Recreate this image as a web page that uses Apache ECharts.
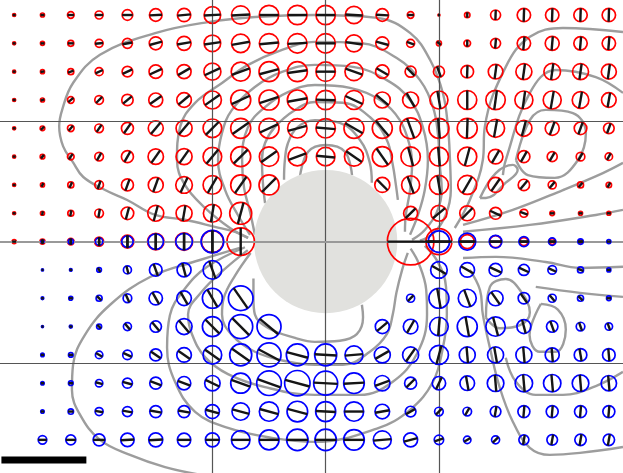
<!DOCTYPE html>
<html>
<head>
<meta charset="utf-8">
<script src="https://cdn.jsdelivr.net/npm/echarts@6/dist/echarts.min.js"></script>
<style>
  html, body { margin: 0; padding: 0; background: #fff; }
  #chart { width: 623px; height: 473px; }
</style>
</head>
<body>
<div id="chart"></div>
<script>
// lattice: columns and rows of the sampling grid (grid units)
const cols = [-11, -10, -9, -8, -7, -6, -5, -4, -3, -2, -1, 0, 1, 2, 3, 4, 5, 6, 7, 8, 9, 10];
const redRows = [8, 7, 6, 5, 4, 3, 2, 1, 0];
const blueRows = [0, -1, -2, -3, -4, -5, -6, -7];

// amplitude of the red ellipses (0 = nothing drawn)
const redAmp = [
  [1.5, 2, 3.3, 4, 5.3, 6.3, 6.7, 8.3, 9.2, 9.7, 9.7, 9.7, 8.7, 6.3, 3.3, 1, 2.7, 5, 6.7, 6.7, 6.7, 6.7],
  [1.5, 2, 3, 4, 5, 6.5, 7, 8.3, 9.2, 9.7, 9.7, 9.7, 8.5, 6.5, 4, 2.5, 3.3, 5, 6.7, 7, 6.7, 6.7],
  [1.5, 2, 3, 4, 5.3, 6.7, 7, 8.5, 9.5, 10, 10, 9.7, 9, 6.7, 5.5, 5.5, 6.3, 7.3, 8, 8.3, 8, 7.5],
  [1.5, 2, 3.3, 4.3, 5.7, 7, 7.3, 9, 10, 10, 10, 9.7, 9.5, 8, 8, 9, 9.5, 9.7, 9, 9, 8.3, 7.3],
  [1.5, 2.3, 3.3, 4.3, 6, 7.5, 8, 9.3, 10, 10, 9.7, 9.7, 10, 10, 10.5, 10, 10, 9, 8, 7, 6.3, 5.3],
  [1.5, 2.3, 3.3, 4.3, 6, 7.7, 8, 9.3, 10, 9.7, 9.3, 9.3, 9.5, 10, 9.7, 9.5, 9.5, 7.3, 6, 5, 4.3, 3.7],
  [1.5, 2, 3, 4.3, 6, 7.5, 8.3, 9.3, 10, 10, 0, 0, 0, 7.5, 9, 9.5, 9.5, 7.5, 5.7, 4, 3, 2.7],
  [1.5, 2, 3, 4.3, 6.3, 8, 8, 9, 11, 0, 0, 0, 0, 0, 7, 8, 7.5, 6, 4, 2.3, 2, 2],
  [2, 2.5, 3.3, 4.5, 6.5, 8.3, 8.7, 11, 13.7, 0, 0, 0, 0, 0, 23.3, 13, 7, 6, 4, 3, 2, 0]
];
// orientation of the major axis, degrees from +x
const redAngle = [
  [0, 0, 0, 0, 0, 3, 5, 3, 3, 0, 0, 0, -3, -3, 0, 0, 90, 88, 88, 88, 88, 88],
  [0, 0, 0, 5, 10, 15, 10, 8, 10, 5, 3, 0, -8, -15, -20, -40, 90, 85, 85, 85, 85, 85],
  [0, 10, 20, 25, 25, 25, 30, 25, 20, 15, 8, 0, -20, -30, -45, -70, 88, 82, 82, 82, 82, 82],
  [0, 20, 40, 45, 40, 35, 40, 35, 25, 18, 10, -2, -25, -40, -60, -80, 90, 82, 82, 80, 80, 80],
  [0, 45, 50, 55, 55, 50, 50, 45, 35, 25, 15, -5, -30, -50, -70, -85, 88, 80, 75, 70, 70, 70],
  [0, 50, 55, 60, 60, 55, 55, 50, 45, 35, 20, -5, -35, -55, -75, -85, 75, 60, 60, 60, 60, 60],
  [0, 60, 65, 70, 70, 70, 65, 60, 55, 45, 0, 0, 0, -45, -70, -80, 60, 55, 50, 50, 50, 60],
  [0, 80, 80, 80, 75, 75, 80, 80, 75, 0, 0, 0, 0, 0, 45, 40, 45, -25, -20, 0, 0, 0],
  [0, 90, 90, 90, 90, 90, 90, 90, 90, 0, 0, 0, 0, 0, 0, 0, 0, 0, 0, 0, 0, 0]
];

const blueAmp = [
  [0, 1.5, 2.5, 3.7, 5.7, 7.7, 8.3, 11.3, 0, 0, 0, 0, 0, 0, 0, 10.7, 8.5, 6.3, 5, 3.7, 2.7, 2],
  [0, 1, 1.3, 2.3, 4, 6.3, 7, 9.3, 0, 0, 0, 0, 0, 0, 0, 8.3, 7.3, 6.5, 5.5, 4.3, 3, 2],
  [0, 1.3, 2, 3, 4.3, 6.7, 7.3, 10, 12.3, 0, 0, 0, 0, 0, 4, 10, 9, 7.5, 5.7, 4, 3, 2.3],
  [0, 1, 1.5, 2.5, 4, 5.7, 8, 10, 12, 12, 0, 0, 0, 7, 7.3, 9.3, 10, 9.7, 7, 5.7, 4.3, 3.7],
  [0, 1.7, 2.3, 3.7, 4.7, 6, 7.3, 9.3, 11, 12, 11, 11, 9, 8, 8, 9.5, 8, 8, 8, 7, 6.3, 6.3],
  [0, 1.7, 2.3, 3.7, 5, 6, 6.7, 7.7, 10, 12.3, 12.7, 12, 10.3, 7.7, 6, 6.7, 7.3, 8.3, 8.7, 8.7, 8.3, 7.7],
  [0, 1.7, 2.7, 4, 5, 6, 6, 7, 8.7, 9.7, 10.3, 10, 9.7, 7.3, 5.3, 4.3, 4.3, 5.3, 6, 6, 6, 6],
  [0, 4.3, 5, 6, 6.7, 7, 6.7, 7, 9.3, 10, 10.7, 10.7, 10.3, 9, 7, 4.7, 3.7, 4, 5, 5.3, 5.7, 5.7]
];
const blueAngle = [
  [0, 90, 90, 90, 90, 90, 90, 90, 0, 0, 0, 0, 0, 0, 0, 0, 0, 0, 0, 0, 0, 0],
  [0, 0, 0, -60, -75, -70, -75, -70, 0, 0, 0, 0, 0, 0, 0, -30, -30, -25, -25, -25, -20, 0],
  [0, 0, 0, -45, -65, -60, -60, -60, -55, 0, 0, 0, 0, 0, 45, -80, -70, -55, -55, -50, -45, 0],
  [0, 0, 0, -45, -50, -50, -50, -45, -45, -40, 0, 0, 0, 40, 60, 85, -80, -75, -75, -70, -70, -70],
  [0, 0, 0, -30, -25, -35, -35, -35, -35, -28, -15, -3, 5, 30, 55, 75, -85, -80, -85, -85, -80, -85],
  [0, 0, 0, -15, -15, -20, -20, -25, -20, -20, -15, -3, 3, 20, 45, 65, -80, -85, -85, -85, -85, -85],
  [0, 0, 0, -10, -10, -10, -10, -15, -15, -15, -15, -3, 0, 10, 30, 45, 60, 80, 85, 85, 85, 85],
  [0, 0, 0, 0, 3, 3, 0, 0, 0, 0, 0, 0, 0, 5, 15, 20, 30, 45, 80, 80, 80, 80]
];

// contour lines of the intensity, traced in grid units
const contourTopLeft = [[-2.74, 0.13], [-3.2, 0.34], [-3.91, 0.52], [-4.97, 0.77], [-6.02, 0.94], [-7.01, 1.47],
  [-7.79, 1.82], [-8.56, 2.28], [-8.92, 2.8], [-9.27, 3.36], [-9.41, 4.07], [-9.3, 4.67], [-8.92, 5.6],
  [-7.97, 6.6], [-6.02, 7.36], [-4.15, 7.75], [-2.49, 7.93], [-0.4, 8], [1.82, 7.9], [2.99, 7.36],
  [3.69, 6.41], [4.14, 5.24], [4.32, 4.04], [4.39, 2.88], [4.42, 1.82], [4.24, 0.94], [3.82, 0.31], [3.33, 0.03]];
const contourArcs = [
  [[-2.74, 0.13], [-3.38, 0.48], [-4.26, 1.19], [-4.97, 2.0], [-5.25, 2.88], [-5.14, 4.05], [-4.61, 4.9],
   [-3.66, 5.6], [-2.74, 6.24], [-1.54, 6.77], [-0.38, 7.05], [1.21, 7.01], [2.51, 6.48], [3.33, 5.7],
   [3.79, 4.75], [3.96, 3.84], [4.03, 2.71], [4.1, 1.82], [3.93, 1.05], [3.5, 0.41], [3.05, 0.06]],
  [[-2.67, 0.24], [-3.1, 0.94], [-3.55, 1.82], [-3.8, 2.88], [-3.66, 3.84], [-3.31, 4.65], [-2.5, 5.46],
   [-1.54, 5.99], [-0.38, 6.24], [0.96, 6.17], [2.16, 5.7], [2.98, 5.0], [3.43, 4.05], [3.61, 2.88],
   [3.5, 1.82], [3.26, 0.94], [2.98, 0.24]],
  [[-2.5, 0.24], [-2.67, 1.05], [-2.88, 1.89], [-2.95, 2.88], [-2.74, 4.05], [-2.14, 4.75], [-1.33, 5.28],
   [-0.38, 5.53], [0.86, 5.43], [1.92, 5.0], [2.62, 4.29], [2.98, 3.34], [3.05, 2.71], [2.98, 1.82],
   [2.83, 0.94], [2.8, 0.35]],
  [[-2.14, 1.36], [-2.21, 2.0], [-2.25, 2.88], [-2.14, 3.48], [-1.79, 4.05], [-1.08, 4.65], [-0.38, 4.93],
   [0.61, 4.9], [1.56, 4.4], [2.16, 3.59], [2.37, 2.71], [2.48, 2.0], [2.55, 1.47]],
  [[-1.47, 2.18], [-1.44, 2.88], [-1.33, 3.48], [-0.98, 4.05], [-0.38, 4.29], [0.5, 4.19], [1.21, 3.59],
   [1.56, 2.78], [1.63, 2.08]],
  [[-0.91, 2.28], [-0.62, 3.17], [0.01, 3.41], [0.68, 3.17], [0.93, 2.35]]
];
const contourBottom = [
  [[-3.03, -0.22], [-4.44, -0.65], [-6.2, -1.25], [-7.61, -2.23], [-8.5, -3.29], [-8.92, -4.35], [-8.96, -5.23],
   [-8.67, -6.12], [-7.97, -7.0], [-6.91, -7.53], [-5.67, -7.96], [-4.44, -8.23]],
  [[-2.85, -0.2], [-4.2, -0.9], [-5.0, -1.7], [-5.5, -2.6], [-5.6, -3.75], [-5.32, -4.95], [-4.61, -6.01],
   [-3.45, -6.58], [-1.9, -6.93], [-0.38, -7.07], [1.81, -6.6], [2.98, -5.94], [3.79, -4.95], [4.14, -3.75],
   [4.28, -2.57], [4.25, -1.6], [3.95, -0.7], [3.5, -0.15]],
  [[-2.75, -0.3], [-3.6, -1.0], [-4.4, -1.8], [-4.86, -2.57], [-4.72, -3.27], [-4.26, -4.08], [-3.45, -4.68],
   [-2.14, -5.14], [-0.38, -5.41], [1.21, -5.41], [2.37, -4.95], [3.22, -3.97], [3.58, -2.57], [3.55, -1.7],
   [3.3, -0.8], [3.0, -0.25]],
  [[-2.65, -0.4], [-3.2, -1.2], [-3.6, -2.0], [-3.66, -2.57], [-3.31, -3.3], [-2.5, -3.89], [-1.33, -4.24],
   [-0.38, -4.35], [0.61, -4.35], [1.56, -3.89], [2.16, -3.27], [2.37, -2.57], [2.5, -1.8], [2.7, -1.0], [2.9, -0.4]],
  [[-2.55, -1.3], [-2.55, -2.0], [-2.5, -2.57], [-2.03, -3.05], [-1.08, -3.4], [-0.38, -3.54], [0.5, -3.5],
   [1.1, -3.27], [1.32, -2.67], [1.28, -2.23]]
];
const contourRight = [
  [[4.56, 0.48], [5.09, 1.47], [5.55, 2.88], [5.62, 4.05], [6.36, 6.17], [7.21, 7.23], [8.38, 7.54], [10.5, 7.4]],
  [[6.26, 2.35], [6.36, 2.88], [7.21, 5.25], [8.13, 6.06], [9.54, 5.81], [10.5, 5.25]],
  [[6.72, 2.88], [7.21, 4.29], [7.77, 4.65], [8.73, 4.54], [9.19, 3.84], [8.91, 2.88], [8.09, 2.25],
   [7.14, 2.35], [6.72, 2.88]],
  [[5.45, 1.54], [6.01, 2.42], [6.61, 2.71], [6.78, 2.53], [6.36, 2.08], [5.66, 1.54], [5.45, 1.54]],
  [[4.85, 0.59], [6.61, 1.12], [8.38, 1.82], [9.79, 2.42], [10.5, 2.78]],
  [[4.85, 0.35], [7.21, 0.59], [9.54, 0.94], [10.5, 1.12]],
  [[4.85, -0.58], [6.01, -0.54], [7.77, -0.72], [8.98, -0.93], [10.5, -0.89]],
  [[5.66, -2.69], [5.8, -1.6], [6.36, -1.32], [6.86, -1.71], [7.21, -2.5], [6.86, -2.95], [6.15, -3.06], [5.66, -2.69]],
  [[7.42, -1.6], [8.98, -1.81], [10.5, -1.95]],
  [[5.09, -1.0], [5.45, -1.71], [5.55, -2.57], [5.8, -3.75], [6.15, -5.16], [6.61, -6.36], [7.21, -7.28],
   [7.91, -7.53], [8.98, -7.46], [10.5, -7.25]],
  [[7.6, -2.2], [8.2, -2.4], [8.48, -3.1], [8.13, -3.89], [7.56, -3.89], [7.2, -3.3], [7.6, -2.2]],
  [[6.36, -4.1], [6.72, -4.95], [7.42, -5.41], [8.38, -5.41], [9.54, -5.1], [10.5, -4.6]]
];
const contours = [contourTopLeft].concat(contourArcs, contourBottom, contourRight);

const diskRadius = 2.53;
const guideX = [-4, 0, 4];
const guideY = [4.24, -4.28];
const scaleBar = { from: -11.45, length: 3, y: -7.71 };

const ampToUnit = 1 / 28.33;

function lattice(rows, amp, angle) {
  const out = [];
  rows.forEach(function (y, j) {
    cols.forEach(function (x, i) {
      if (amp[j][i] > 0) out.push([x, y, amp[j][i], angle[j][i]]);
    });
  });
  return out;
}
const redData = lattice(redRows, redAmp, redAngle);
const blueData = lattice(blueRows, blueAmp, blueAngle);

function ringRenderer(color) {
  return function (params, api) {
    const c = api.coord([api.value(0), api.value(1)]);
    const r = api.size([api.value(2) * ampToUnit, 0])[0];
    return {
      type: 'circle',
      shape: { cx: c[0], cy: c[1], r: r },
      style: { fill: 'none', stroke: color, lineWidth: 1.7 }
    };
  };
}

function axisRenderer(params, api) {
  const c = api.coord([api.value(0), api.value(1)]);
  const r = api.size([api.value(2) * ampToUnit, 0])[0];
  const a = api.value(3) * Math.PI / 180;
  const dx = r * Math.cos(a), dy = -r * Math.sin(a);
  return {
    type: 'line',
    shape: { x1: c[0] - dx, y1: c[1] - dy, x2: c[0] + dx, y2: c[1] + dy },
    style: { stroke: '#151515', lineWidth: 2.4 }
  };
}

var chartDom = document.getElementById('chart');
var myChart = echarts.init(chartDom);
var option;

const series = [];
contours.forEach(function (pts) {
  series.push({
    type: 'line', data: pts, smooth: 0.4, symbol: 'none', silent: true, z: 1,
    lineStyle: { color: '#9d9d9d', width: 2.4 }
  });
});
series.push({
  type: 'custom', z: 2, silent: true, data: [[0, 0, diskRadius]],
  renderItem: function (params, api) {
    const c = api.coord([api.value(0), api.value(1)]);
    return {
      type: 'circle',
      shape: { cx: c[0], cy: c[1], r: api.size([api.value(2), 0])[0] },
      style: { fill: '#e1e1de' }
    };
  }
});
series.push({
  type: 'line', z: 3, silent: true, symbol: 'none',
  data: [[scaleBar.from, scaleBar.y], [scaleBar.from + scaleBar.length, scaleBar.y]],
  lineStyle: { color: '#000', width: 7, cap: 'butt' },
  markLine: {
    silent: true, symbol: 'none', label: { show: false },
    lineStyle: { color: '#555', width: 1.2, type: 'solid' },
    data: guideX.map(function (v) { return { xAxis: v }; })
      .concat(guideY.map(function (v) { return { yAxis: v }; }))
      .concat([{ yAxis: 0, lineStyle: { color: '#999', width: 2.2 } }])
  }
});
series.push({ type: 'custom', z: 4, silent: true, data: redData, renderItem: ringRenderer('#ff0000') });
series.push({ type: 'custom', z: 5, silent: true, data: blueData, renderItem: ringRenderer('#0000ff') });
series.push({ type: 'custom', z: 6, silent: true, data: redData.concat(blueData), renderItem: axisRenderer });

option = {
  animation: false,
  grid: { left: 0, right: 0, top: 0, bottom: 0 },
  xAxis: { type: 'value', min: -11.5, max: 10.5, show: false },
  yAxis: { type: 'value', min: -8.17, max: 8.53, show: false },
  series: series
};

option && myChart.setOption(option);
</script>
</body>
</html>
